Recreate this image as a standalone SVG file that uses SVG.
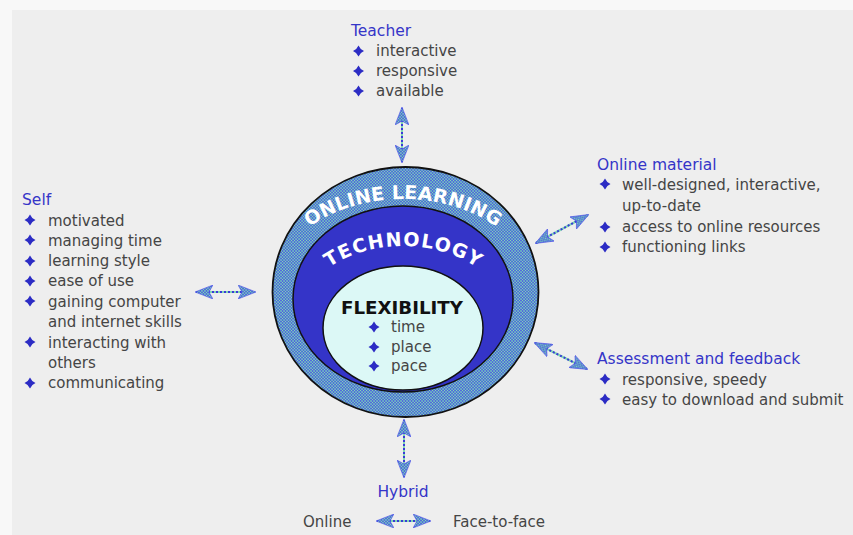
<svg xmlns="http://www.w3.org/2000/svg" width="853" height="535" viewBox="0 0 853 535">
  <style>
    .body { font-family: "DejaVu Sans", "Open Sans", sans-serif; font-size: 15px; fill: #454545; }
    .head { font-family: "DejaVu Sans", "Open Sans", sans-serif; font-size: 15.5px; fill: #3535c8; }
    .ring { font-family: "DejaVu Sans", "Open Sans", sans-serif; font-size: 19px; font-weight: bold; fill: #ffffff; }
    .flex { font-family: "DejaVu Sans", "Open Sans", sans-serif; font-size: 17px; font-weight: bold; fill: #111111; }
    .bullet { fill: #2c2cc4; }
    .wire-under { stroke: #80d8b0; stroke-width: 2; fill: none; }
    .wire { stroke: #3a3ad8; stroke-width: 2; stroke-dasharray: 2 2; fill: none; }
  </style>
  <defs>
    <!-- blue base with a light green dot mesh, used by the outer ring and arrowheads -->
    <pattern id="dither" width="3" height="3" patternUnits="userSpaceOnUse">
      <rect width="3" height="3" fill="#5a8ad6"/>
      <rect x="0" y="0" width="1.2" height="1.2" fill="#80dcae"/>
      <rect x="1.5" y="1.5" width="1.2" height="1.2" fill="#80dcae"/>
      <rect x="1.5" y="0" width="1" height="1" fill="#4848e0"/>
      <rect x="0" y="1.5" width="1" height="1" fill="#4848e0"/>
    </pattern>
    <marker id="head" viewBox="0 0 18 14" refX="17" refY="7" markerWidth="18" markerHeight="14" markerUnits="userSpaceOnUse" orient="auto-start-reverse">
      <path d="M0,0 L18,7 L0,14 L4,7 Z" fill="url(#dither)" stroke="#4a4aec" stroke-width="0.6"/>
    </marker>
    <!-- four-point star bullet -->
    <path id="b" class="bullet" d="M0,-5.5 Q1.6,-1.6 5.5,0 Q1.6,1.6 0,5.5 Q-1.6,1.6 -5.5,0 Q-1.6,-1.6 0,-5.5 Z"/>
    <path id="arcOuter" d="M 268,299 A 135,100 0 0 1 538,299"/>
    <path id="arcMiddle" d="M 298,320 A 105,74 0 0 1 508,320"/>
  </defs>

  <!-- page -->
  <rect width="853" height="535" fill="#f8f8f8"/>
  <rect x="12" y="10" width="841" height="525" fill="#eeeeee"/>

  <!-- connectors -->
  <g id="connectors">
    <g>
      <line class="wire-under" x1="402" y1="108" x2="402" y2="162"/>
      <line class="wire" x1="402" y1="108" x2="402" y2="162" marker-start="url(#head)" marker-end="url(#head)"/>
    </g>
    <g>
      <line class="wire-under" x1="196" y1="292" x2="255" y2="292"/>
      <line class="wire" x1="196" y1="292" x2="255" y2="292" marker-start="url(#head)" marker-end="url(#head)"/>
    </g>
    <g>
      <line class="wire-under" x1="536" y1="243" x2="588" y2="215"/>
      <line class="wire" x1="536" y1="243" x2="588" y2="215" marker-start="url(#head)" marker-end="url(#head)"/>
    </g>
    <g>
      <line class="wire-under" x1="535" y1="343" x2="587" y2="369"/>
      <line class="wire" x1="535" y1="343" x2="587" y2="369" marker-start="url(#head)" marker-end="url(#head)"/>
    </g>
    <g>
      <line class="wire-under" x1="404" y1="420" x2="404" y2="477"/>
      <line class="wire" x1="404" y1="420" x2="404" y2="477" marker-start="url(#head)" marker-end="url(#head)"/>
    </g>
    <g>
      <line class="wire-under" x1="377" y1="521" x2="430" y2="521"/>
      <line class="wire" x1="377" y1="521" x2="430" y2="521" marker-start="url(#head)" marker-end="url(#head)"/>
    </g>
  </g>

  <!-- central nested ellipses -->
  <g id="online-learning">
    <ellipse cx="405.5" cy="292" rx="133" ry="125" fill="url(#dither)" stroke="#111" stroke-width="1.8"/>
    <text class="ring"><textPath href="#arcOuter" startOffset="50%" text-anchor="middle" textLength="198" lengthAdjust="spacing">ONLINE LEARNING</textPath></text>
  </g>
  <g id="technology">
    <ellipse cx="403" cy="299" rx="110" ry="93" fill="#3434c8" stroke="#111" stroke-width="1.5"/>
    <text class="ring"><textPath href="#arcMiddle" startOffset="50%" text-anchor="middle" textLength="156" lengthAdjust="spacing">TECHNOLOGY</textPath></text>
  </g>
  <g id="flexibility">
    <ellipse cx="403" cy="328" rx="80" ry="62" fill="#dcf8f6" stroke="#111" stroke-width="1.5"/>
    <text class="flex" x="341" y="314" textLength="122" lengthAdjust="spacingAndGlyphs">FLEXIBILITY</text>
    <use href="#b" x="374" y="327"/>
    <use href="#b" x="374" y="347"/>
    <use href="#b" x="374" y="366"/>
    <text class="body" x="391" y="332">time</text>
    <text class="body" x="391" y="352">place</text>
    <text class="body" x="391" y="371">pace</text>
  </g>

  <!-- Teacher -->
  <g id="teacher">
    <text class="head" x="351" y="36">Teacher</text>
    <use href="#b" x="358.5" y="51"/>
    <use href="#b" x="358.5" y="71"/>
    <use href="#b" x="358.5" y="91"/>
    <text class="body" x="376" y="56">interactive</text>
    <text class="body" x="376" y="76">responsive</text>
    <text class="body" x="376" y="96">available</text>
  </g>

  <!-- Self -->
  <g id="self">
    <text class="head" x="22" y="205">Self</text>
    <use href="#b" x="30" y="220"/>
    <use href="#b" x="30" y="240"/>
    <use href="#b" x="30" y="261"/>
    <use href="#b" x="30" y="281"/>
    <use href="#b" x="30" y="301"/>
    <use href="#b" x="30" y="342"/>
    <use href="#b" x="30" y="383"/>
    <text class="body" x="48" y="226">motivated</text>
    <text class="body" x="48" y="246">managing time</text>
    <text class="body" x="48" y="266">learning style</text>
    <text class="body" x="48" y="286">ease of use</text>
    <text class="body" x="48" y="307">gaining computer</text>
    <text class="body" x="48" y="327">and internet skills</text>
    <text class="body" x="48" y="348">interacting with</text>
    <text class="body" x="48" y="368">others</text>
    <text class="body" x="48" y="388">communicating</text>
  </g>

  <!-- Online material -->
  <g id="online-material">
    <text class="head" x="597" y="170">Online material</text>
    <use href="#b" x="605" y="184"/>
    <use href="#b" x="605" y="227"/>
    <use href="#b" x="605" y="247"/>
    <text class="body" x="622" y="190">well-designed, interactive,</text>
    <text class="body" x="622" y="211">up-to-date</text>
    <text class="body" x="622" y="232">access to online resources</text>
    <text class="body" x="622" y="252">functioning links</text>
  </g>

  <!-- Assessment and feedback -->
  <g id="assessment">
    <text class="head" x="597" y="364">Assessment and feedback</text>
    <use href="#b" x="605" y="379"/>
    <use href="#b" x="605" y="399"/>
    <text class="body" x="622" y="385">responsive, speedy</text>
    <text class="body" x="622" y="405">easy to download and submit</text>
  </g>

  <!-- Hybrid -->
  <g id="hybrid">
    <text class="head" x="403" y="497" text-anchor="middle">Hybrid</text>
    <text class="body" x="303" y="527">Online</text>
    <text class="body" x="453" y="527">Face-to-face</text>
  </g>
</svg>
